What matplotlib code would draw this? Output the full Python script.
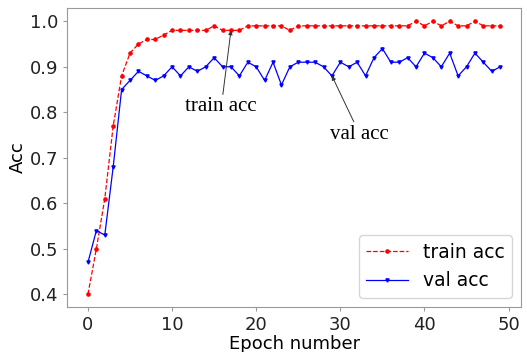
import numpy as np
import matplotlib
matplotlib.use("Agg")
import matplotlib.pyplot as plt

# Accuracy per epoch
epochs = np.arange(50)
train_acc = [0.40, 0.50, 0.61, 0.77, 0.88, 0.93, 0.95, 0.96, 0.96, 0.97,
             0.98, 0.98, 0.98, 0.98, 0.98, 0.99, 0.98, 0.98, 0.98, 0.99,
             0.99, 0.99, 0.99, 0.99, 0.98, 0.99, 0.99, 0.99, 0.99, 0.99,
             0.99, 0.99, 0.99, 0.99, 0.99, 0.99, 0.99, 0.99, 0.99, 1.00,
             0.99, 1.00, 0.99, 1.00, 0.99, 0.99, 1.00, 0.99, 0.99, 0.99]
val_acc = [0.47, 0.54, 0.53, 0.68, 0.85, 0.87, 0.89, 0.88, 0.87, 0.88,
           0.90, 0.88, 0.90, 0.89, 0.90, 0.92, 0.90, 0.90, 0.88, 0.91,
           0.90, 0.87, 0.91, 0.86, 0.90, 0.91, 0.91, 0.91, 0.90, 0.88,
           0.91, 0.90, 0.91, 0.88, 0.92, 0.94, 0.91, 0.91, 0.92, 0.90,
           0.93, 0.92, 0.90, 0.93, 0.88, 0.90, 0.93, 0.91, 0.89, 0.90]

# annotated epochs
train_note = 17
val_note = 29

fig = plt.figure(figsize=(5.27, 3.52), dpi=100)
ax = fig.add_axes([0.127, 0.128, 0.862, 0.849])

ax.plot(epochs, train_acc, color='red', linestyle='--', linewidth=0.9,
        marker='o', markersize=2.3, label='train acc')
ax.plot(epochs, val_acc, color='blue', linestyle='-', linewidth=0.9,
        marker='v', markersize=2.3, label='val acc')

arrow = dict(arrowstyle='-|>', color='#333333', linewidth=0.7, mutation_scale=6,
             shrinkA=0, shrinkB=0)
ax.annotate('train acc', xy=(epochs[train_note], train_acc[train_note]),
            xytext=(15.85, 0.812), textcoords='data', ha='center', va='center',
            fontsize=15, family='Liberation Serif', arrowprops=arrow)
ax.annotate('val acc', xy=(epochs[val_note], val_acc[val_note]),
            xytext=(32.3, 0.752), textcoords='data', ha='center', va='center',
            fontsize=15, family='Liberation Serif', arrowprops=arrow)

ax.set_xlim(-2.5, 51.5)
ax.set_ylim(0.372, 1.029)
ax.set_xticks([0, 10, 20, 30, 40, 50])
ax.set_yticks([0.4, 0.5, 0.6, 0.7, 0.8, 0.9, 1.0])
ax.tick_params(labelsize=13, colors='#222222', length=3)
for sp in ax.spines.values():
    sp.set_color('#999999')
ax.tick_params(axis='both', color='#999999')

ax.set_xlabel('Epoch number', fontsize=13, labelpad=1)
ax.set_ylabel('Acc', fontsize=13, labelpad=2)

ax.legend(loc='lower right', fontsize=13.5, handlelength=2.2)

fig.savefig('out.png', dpi=100)
